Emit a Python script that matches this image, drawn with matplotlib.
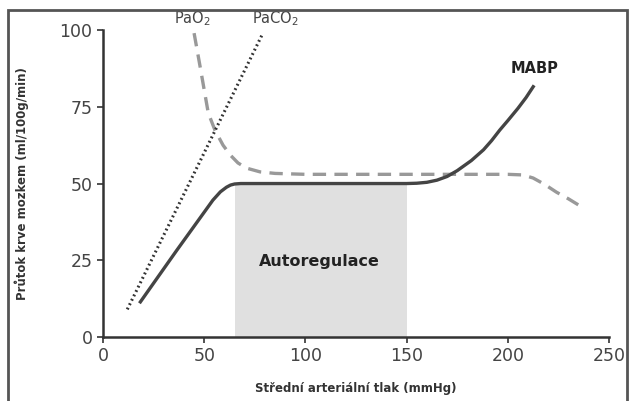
import matplotlib.pyplot as plt
from matplotlib.patches import Rectangle

# MABP curve (solid)
mabp_x = [18, 36.5, 54.3, 58, 61, 63, 65, 68, 100, 150, 155, 160, 165, 170, 175, 182, 188, 192, 196, 200, 205, 209, 213]
mabp_y = [11, 28.3, 44.6, 47.3, 48.8, 49.5, 49.85, 50, 50, 50, 50.1, 50.4, 51.1, 52.3, 54.2, 57.5, 61, 64, 67.4, 70.5, 74.5, 78, 82]

# PaO2 curve (dashed)
pao2_x = [45, 48, 52, 55.3, 59.3, 63, 66.7, 71, 77.6, 85, 100, 150, 200, 207.5, 212.5, 218, 224, 230, 236.7, 238]
pao2_y = [99, 88, 73, 67.4, 62.5, 59.2, 56.7, 55, 53.8, 53.3, 53, 53, 53, 52.8, 51.8, 49.8, 47.2, 45, 42.3, 41.5]

# PaCO2 line (dotted)
paco2_x = [12, 79]
paco2_y = [9, 99]

# autoregulation band
auto_x = [65, 150]
auto_top = 50

fig = plt.figure(figsize=(6.3, 4.01), dpi=100)
ax = fig.add_axes([0.1635, 0.1596, 0.8032, 0.7654])

ax.fill_between(auto_x, 0, auto_top, color='#e0e0e0', lw=0, zorder=0)
ax.plot(pao2_x, pao2_y, color='#999999', lw=2.4, ls=(0, (4, 2.5)), zorder=2)
ax.plot(paco2_x, paco2_y, color='#333333', lw=2.2, ls=(0, (0.6, 1.0)), zorder=2)
ax.plot(mabp_x, mabp_y, color='#444444', lw=2.4, zorder=3, solid_capstyle='butt')

ax.text(107, 24.5, 'Autoregulace', ha='center', va='center', fontsize=11.5, fontweight='bold', color='#222222')
ax.text(213, 87.5, 'MABP', ha='center', va='center', fontsize=10.5, fontweight='bold', color='#222222')
ax.text(44, 103.8, 'PaO$_2$', ha='center', va='center', fontsize=10.5, color='#444444', clip_on=False)
ax.text(85, 103.8, 'PaCO$_2$', ha='center', va='center', fontsize=10.5, color='#444444', clip_on=False)

ax.set_xlim(0, 250)
ax.set_ylim(0, 100)
ax.set_xticks([0, 50, 100, 150, 200, 250])
ax.set_yticks([0, 25, 50, 75, 100])
for s in ['top', 'right']:
    ax.spines[s].set_visible(False)
for s in ['left', 'bottom']:
    ax.spines[s].set_linewidth(1.8)
    ax.spines[s].set_color('#333333')
ax.tick_params(direction='out', length=4, width=1.2, colors='#333333', labelsize=12.5, labelcolor='#444444')

ax.set_xlabel('Střední arteriální tlak (mmHg)', fontsize=8.5, fontweight='bold', color='#333333', labelpad=12)
ax.set_ylabel('Průtok krve mozkem (ml/100g/min)', fontsize=8.5, fontweight='bold', color='#333333', labelpad=22)

# frame around the whole picture
fig.patches.append(Rectangle((8 / 630, -0.05), 619 / 630, 1 - 10 / 401 + 0.05,
                             transform=fig.transFigure, fill=False, lw=2, ec='#555555'))

fig.savefig('out.png', dpi=100)
